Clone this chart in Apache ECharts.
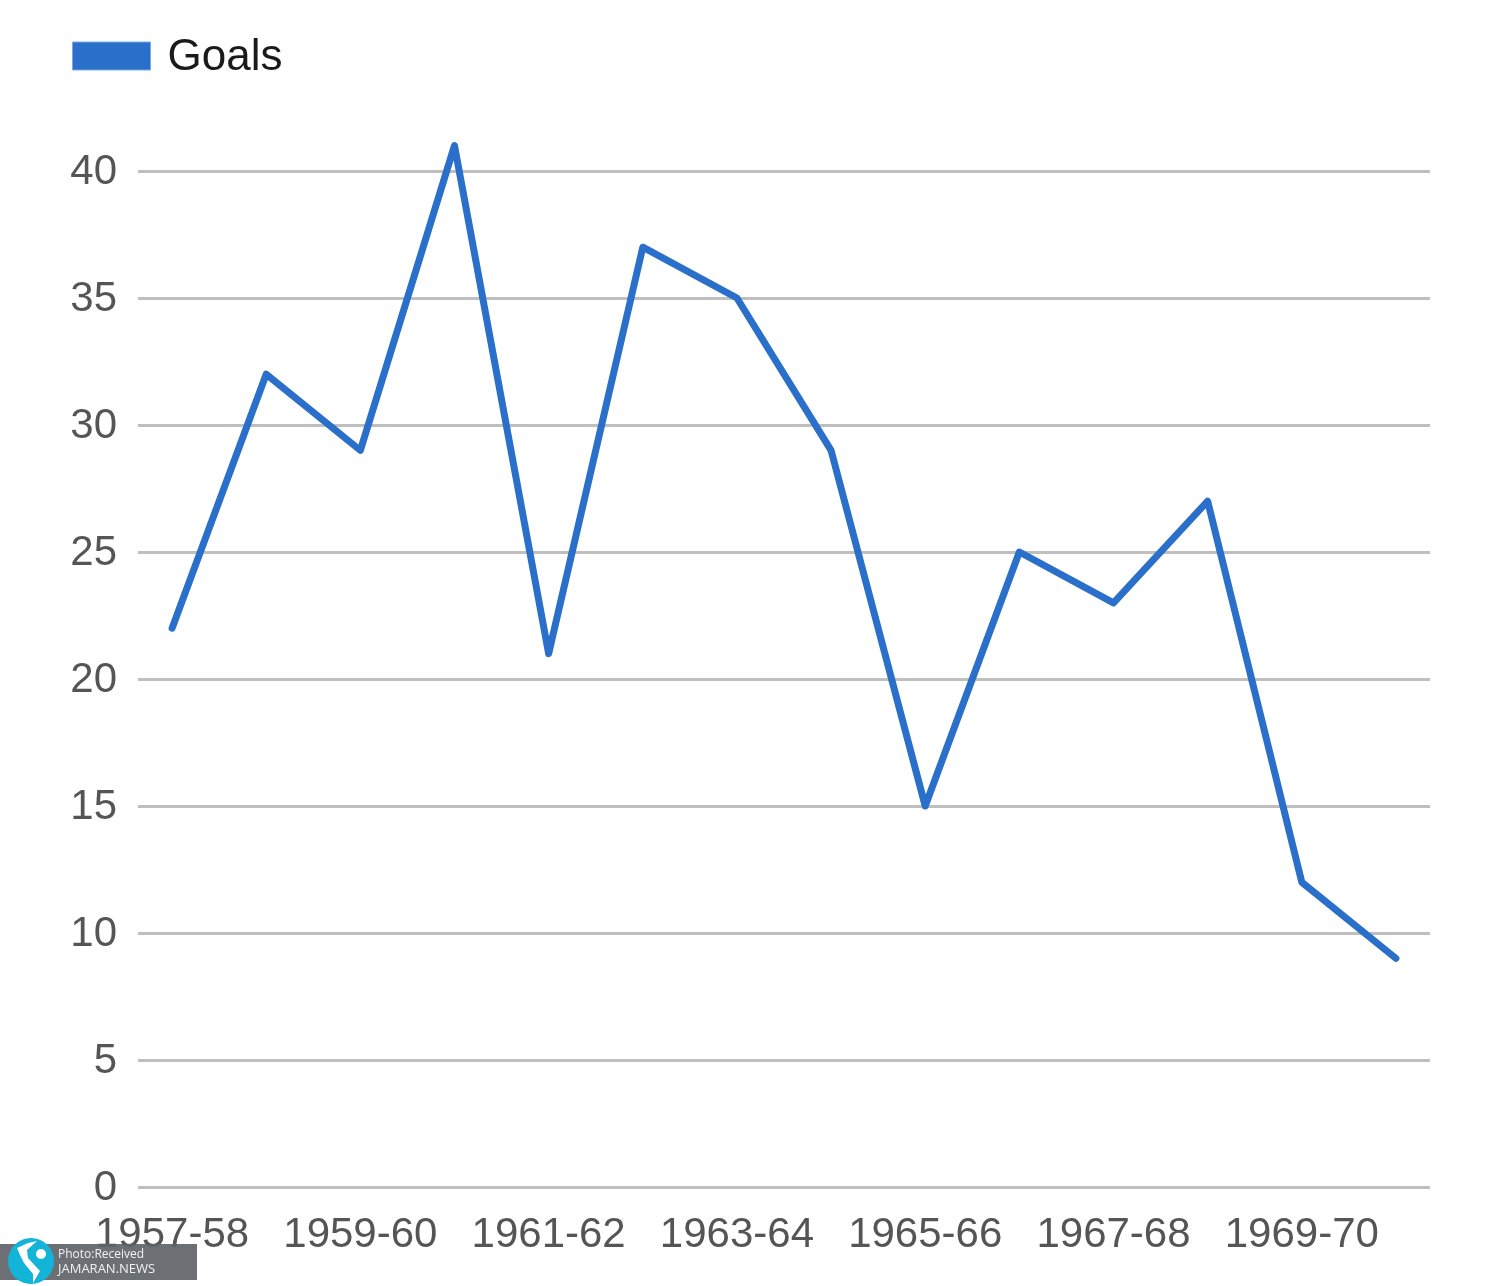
<!DOCTYPE html>
<html>
<head>
<meta charset="utf-8">
<style>
  html, body { margin: 0; padding: 0; background: #fff; }
  #chart { width: 1500px; height: 1286px; }
</style>
<script src="https://cdn.jsdelivr.net/npm/echarts@6/dist/echarts.min.js"></script>
</head>
<body>
<div id="chart"></div>
<script>
const seasons = ['1957-58', '1958-59', '1959-60', '1960-61', '1961-62', '1962-63', '1963-64',
  '1964-65', '1965-66', '1966-67', '1967-68', '1968-69', '1969-70', '1970-71'];
const goals = [22, 32, 29, 41, 21, 37, 35, 29, 15, 25, 23, 27, 12, 9];

const FONT = '"Liberation Sans", Arial, sans-serif';

const chart = echarts.init(document.getElementById('chart'));

chart.setOption({
  animation: false,
  legend: {
    left: 72,
    top: 36,
    padding: 0,
    icon: 'rect',
    itemWidth: 78,
    itemHeight: 28,
    formatter: '{g|{name}}',
    textStyle: {
      padding: [0, 0, 0, 12],
      // rich box so the text can sit a little below the swatch centre
      rich: { g: { fontFamily: FONT, fontSize: 44, color: '#1a1a1a', padding: [4, 0, 0, 0] } }
    },
    itemStyle: { borderColor: '#7aa8e4', borderWidth: 1 }
  },
  // grid 0 carries the horizontal rules, grid 1 the line (rules overhang the bands differently)
  grid: [
    { left: 138, right: 70, top: 44, bottom: 99 },
    { left: 125, right: 57, top: 44, bottom: 99 }
  ],
  xAxis: [
    { type: 'category', gridIndex: 0, data: seasons, show: false },
    {
      type: 'category',
      gridIndex: 1,
      data: seasons,
      axisLine: { show: false },
      axisTick: { show: false },
      axisLabel: {
        interval: 1,
        margin: 27,
        fontFamily: FONT,
        fontSize: 42,
        color: '#555555',
        hideOverlap: false
      }
    }
  ],
  yAxis: [
    {
      type: 'value',
      gridIndex: 0,
      min: 0,
      max: 45,
      interval: 5,
      axisLine: { show: false },
      axisTick: { show: false },
      axisLabel: {
        margin: 21,
        showMaxLabel: false,
        formatter: '{l|{value}}',
        rich: { l: { fontFamily: FONT, fontSize: 42, color: '#555555', padding: [3, 0, 0, 0] } }
      },
      splitLine: { showMaxLine: false, lineStyle: { color: '#bfbfbf', width: 3 } }
    },
    { type: 'value', gridIndex: 1, min: 0, max: 45, interval: 5, show: false }
  ],
  series: [{
    name: 'Goals',
    type: 'line',
    xAxisIndex: 1,
    yAxisIndex: 1,
    data: goals,
    showSymbol: false,
    symbol: 'none',
    itemStyle: { color: '#2a6fca' },
    lineStyle: { color: '#2a6fca', width: 7, cap: 'round', join: 'round' }
  }],
  graphic: [
    // watermark strip
    { type: 'rect', z: 100, shape: { x: 0, y: 1244, width: 197, height: 36 }, style: { fill: 'rgba(95,100,105,0.92)' } },
    { type: 'circle', z: 101, shape: { cx: 31, cy: 1261, r: 23 }, style: { fill: '#12b4d8' } },
    {
      type: 'polygon', z: 102,
      shape: { points: [[17, 1248], [28, 1243], [37, 1241], [27, 1250], [28, 1258], [40, 1271], [33, 1283], [33, 1274], [24, 1263], [20, 1255]] },
      style: { fill: '#ffffff' }
    },
    { type: 'circle', z: 102, shape: { cx: 41, cy: 1254, r: 5 }, style: { fill: '#ffffff' } },
    { type: 'text', z: 102, style: { x: 58, y: 1249, text: 'Photo:Received', fill: '#f2f2f2', font: '12px "Open Sans", sans-serif' } },
    { type: 'text', z: 102, style: { x: 58, y: 1263, text: 'JAMARAN.NEWS', fill: '#f2f2f2', font: '13px "Open Sans", sans-serif' } }
  ]
});
</script>
</body>
</html>
